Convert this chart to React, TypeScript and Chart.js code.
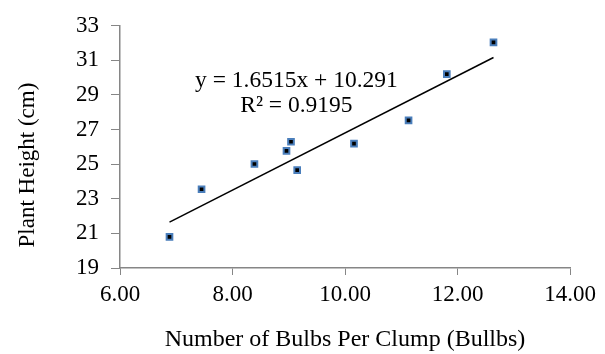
import React, { useEffect, useRef } from "react";
import { Chart, registerables } from "chart.js";

Chart.register(...registerables);

const bulbs = [6.88, 7.45, 8.39, 8.96, 9.04, 9.15, 10.16, 11.13, 11.81, 12.64];
const heights = [20.8, 23.55, 25.01, 25.77, 26.3, 24.66, 26.19, 27.53, 30.21, 32.04];
const slope = 1.6515;
const intercept = 10.291;
const equationLines = ["y = 1.6515x + 10.291", "R² = 0.9195"];
const xTitle = "Number of Bulbs Per Clump (Bullbs)";
const yTitle = "Plant Height (cm)";

const FONT = "'Liberation Serif', 'Times New Roman', serif";
const AXIS_COLOR = "#868686";

export default function App() {
  const ref = useRef<HTMLCanvasElement | null>(null);

  useEffect(() => {
    if (!ref.current) return;
    const xMin = Math.min(...bulbs);
    const xMax = Math.max(...bulbs);
    const trend = [
      { x: xMin, y: slope * xMin + intercept },
      { x: xMax, y: slope * xMax + intercept },
    ];
    const textPlugin = {
      id: "texts",
      afterDatasetsDraw(chart: any) {
        const ctx = chart.ctx;
        const area = chart.chartArea;
        ctx.save();
        ctx.fillStyle = "#000";
        ctx.font = `23.5px ${FONT}`;
        ctx.textAlign = "center";
        ctx.textBaseline = "alphabetic";
        const cx = area.left + (area.right - area.left) * 0.392;
        ctx.fillText(equationLines[0], cx, area.top + 61);
        ctx.fillText(equationLines[1], cx, area.top + 86);
        // y-axis title
        ctx.font = `23px ${FONT}`;
        ctx.textBaseline = "middle";
        ctx.translate(28, area.top + (area.bottom - area.top) * 0.575);
        ctx.rotate(-Math.PI / 2);
        ctx.fillText(yTitle, 0, 0);
        ctx.restore();
      },
    };
    const chart = new Chart(ref.current, {
      type: "scatter",
      data: {
        datasets: [
          {
            label: "Plant height",
            data: bulbs.map((b, i) => ({ x: b, y: heights[i] })),
            pointStyle: "rect",
            pointRadius: 4,
            backgroundColor: "#000000",
            borderColor: "#4a7ebb",
            borderWidth: 2,
          },
          {
            label: "Linear",
            type: "line",
            data: trend,
            borderColor: "#000000",
            borderWidth: 1.5,
            pointRadius: 0,
            fill: false,
          } as any,
        ],
      },
      options: {
        responsive: false,
        animation: false,
        layout: { padding: { top: 24, right: 35, left: 0, bottom: 0 } },
        plugins: { legend: { display: false }, tooltip: { enabled: false } },
        scales: {
          x: {
            type: "linear",
            min: 6,
            max: 14,
            ticks: {
              stepSize: 2,
              color: "#000",
              font: { family: FONT, size: 23 },
              padding: 6,
              callback: (v: any) => Number(v).toFixed(2),
            },
            grid: { drawOnChartArea: false, drawTicks: true, tickLength: 7, color: AXIS_COLOR },
            border: { display: true, color: AXIS_COLOR, width: 1.5 },
            title: {
              display: true,
              text: xTitle,
              color: "#000",
              font: { family: FONT, size: 24 },
              padding: { top: 0, bottom: 0 },
            },
            afterFit: (s: any) => {
              s.height = 86;
            },
          },
          y: {
            type: "linear",
            min: 19,
            max: 33,
            ticks: {
              stepSize: 2,
              color: "#000",
              font: { family: FONT, size: 23 },
              padding: 12,
            },
            grid: { drawOnChartArea: false, drawTicks: true, tickLength: 9, color: AXIS_COLOR },
            border: { display: true, color: AXIS_COLOR, width: 1.5 },
            title: { display: false },
            afterFit: (s: any) => {
              s.width = 120;
            },
          },
        },
      },
      plugins: [textPlugin],
    });
    return () => chart.destroy();
  }, []);

  return (
    <div style={{ position: "fixed", left: 0, top: 0, width: 605, height: 354, background: "#fff" }}>
      <canvas ref={ref} width={605} height={354} style={{ width: 605, height: 354 }} />
    </div>
  );
}
